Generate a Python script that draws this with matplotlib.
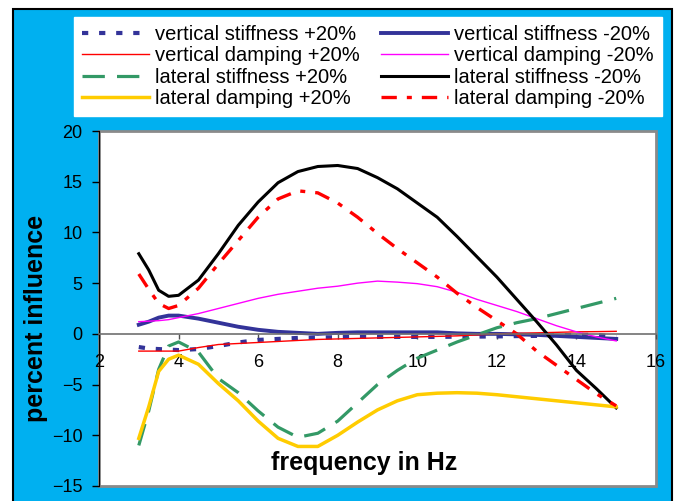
import numpy as np
import matplotlib
matplotlib.use('Agg')
import matplotlib.pyplot as plt
from matplotlib.patches import Rectangle

plt.rcParams['font.family'] = ['Liberation Sans', 'DejaVu Sans']

freq = [3, 3.25, 3.5, 3.75, 4, 4.5, 5, 5.5, 6, 6.5, 7, 7.5, 8, 8.5, 9, 9.5,
        10, 10.5, 11, 11.5, 12, 12.5, 13, 13.5, 14, 14.5, 15]

vert_stiff_plus = [-1.3, -1.45, -1.5, -1.55, -1.6, -1.5, -1.2, -0.85, -0.6, -0.5, -0.4, -0.37, -0.33, -0.3,
                   -0.3, -0.3, -0.3, -0.3, -0.28, -0.27, -0.25, -0.22, -0.2, -0.15, -0.1, -0.1, -0.3]
vert_stiff_minus = [0.9, 1.2, 1.6, 1.8, 1.8, 1.5, 1.1, 0.7, 0.4, 0.2, 0.1, 0.0, 0.1, 0.15,
                    0.15, 0.15, 0.15, 0.15, 0.05, 0.0, 0.0, -0.05, -0.1, -0.2, -0.3, -0.4, -0.5]
vert_damp_plus = [-1.7, -1.7, -1.7, -1.7, -1.7, -1.35, -1.05, -0.95, -0.85, -0.75, -0.65, -0.55, -0.5, -0.45,
                  -0.4, -0.35, -0.3, -0.25, -0.2, -0.1, 0.0, 0.05, 0.1, 0.15, 0.2, 0.22, 0.25]
vert_damp_minus = [1.2, 1.25, 1.3, 1.4, 1.6, 2.0, 2.5, 3.0, 3.5, 3.9, 4.2, 4.5, 4.7, 5.0,
                   5.2, 5.1, 4.95, 4.65, 4.1, 3.4, 2.8, 2.2, 1.5, 0.8, 0.2, -0.3, -0.7]
lat_stiff_plus = [-11.0, -7.6, -3.5, -1.2, -0.8, -1.8, -4.4, -5.8, -7.6, -9.2, -10.2, -9.8, -8.6, -6.8,
                  -5.0, -3.6, -2.4, -1.6, -0.8, -0.1, 0.6, 1.1, 1.5, 2.0, 2.5, 3.0, 3.5]
lat_stiff_minus = [7.9, 6.3, 4.3, 3.7, 3.8, 5.3, 7.9, 10.7, 13.0, 14.9, 16.0, 16.5, 16.6, 16.3,
                   15.4, 14.3, 12.9, 11.5, 9.6, 7.6, 5.6, 3.4, 1.2, -1.1, -3.6, -5.4, -7.3]
lat_damp_plus = [-10.3, -7.2, -3.7, -2.5, -2.1, -3.0, -4.9, -6.6, -8.6, -10.3, -11.1, -11.1, -10.0, -8.7,
                 -7.5, -6.6, -6.0, -5.85, -5.8, -5.85, -6.0, -6.2, -6.4, -6.6, -6.8, -7.0, -7.2]
lat_damp_minus = [5.9, 4.4, 3.0, 2.5, 2.8, 4.5, 6.9, 9.2, 11.5, 13.3, 14.1, 13.9, 12.9, 11.5,
                  9.9, 8.4, 7.0, 5.6, 4.0, 2.6, 1.3, 0.0, -1.7, -3.1, -4.5, -5.9, -7.1]

W, H = 677, 501
fig = plt.figure(figsize=(W / 100, H / 100), dpi=100)
fig.patch.set_facecolor('white')

# blue chart area with black frame
fig.add_artist(Rectangle((13 / W, -0.02), 659 / W, 1.02 - 9 / H, transform=fig.transFigure,
                         facecolor='#00b0f0', edgecolor='black', linewidth=1.5, zorder=0))

ax = fig.add_axes([99 / W, 15 / H, 557 / W, 355 / H])
ax.set_facecolor('white')

l_vs_p, = ax.plot(freq, vert_stiff_plus, color='#333399', lw=3, linestyle=(0, (1.5, 2.6)))
l_vs_m, = ax.plot(freq, vert_stiff_minus, color='#333399', lw=2.8)
l_vd_p, = ax.plot(freq, vert_damp_plus, color='#ff0000', lw=1.0)
l_vd_m, = ax.plot(freq, vert_damp_minus, color='#ff00ff', lw=1.0)
l_ls_p, = ax.plot(freq, lat_stiff_plus, color='#339966', lw=2.3, linestyle=(0, (7, 3.8)))
l_ls_m, = ax.plot(freq, lat_stiff_minus, color='black', lw=2.2)
l_ld_p, = ax.plot(freq, lat_damp_plus, color='#ffcc00', lw=2.5)
l_ld_m, = ax.plot(freq, lat_damp_minus, color='#ff0000', lw=2.4, linestyle=(0, (4.6, 3, 1.5, 3)))

ax.set_xlim(2, 16)
ax.set_ylim(-15, 20)
ax.set_xticks(np.arange(2, 17, 2))
ax.set_yticks(np.arange(-15, 21, 5))

for s in ['top', 'right']:
    ax.spines[s].set_visible(False)
ax.spines['left'].set_color('black')
ax.spines['bottom'].set_position(('data', 0))
ax.spines['bottom'].set_color('#707070')
ax.spines['bottom'].set_linewidth(1.2)
ax.add_patch(Rectangle((0, 0), 1, 1, transform=ax.transAxes, fill=False,
                       edgecolor='#8a8a8a', linewidth=2, zorder=0.5, clip_on=False))

ax.tick_params(axis='y', direction='out', length=5, width=1, pad=7, labelsize=13)
ax.tick_params(axis='x', direction='out', length=3.5, width=1, pad=11, labelsize=13,
               color='#505050')

ax.set_ylabel('percent influence', fontsize=18, fontweight='bold')
ax.yaxis.set_label_coords(-0.092, 0.473)
ax.text(0.476, 0.065, 'frequency in Hz', transform=ax.transAxes, ha='center', va='center',
        fontsize=18, fontweight='bold')

handles = [l_vs_p, l_vd_p, l_ls_p, l_ld_p, l_vs_m, l_vd_m, l_ls_m, l_ld_m]
labels = ['vertical stiffness +20%', 'vertical damping +20%', 'lateral stiffness +20%',
          'lateral damping +20%', 'vertical stiffness -20%', 'vertical damping -20%',
          'lateral stiffness -20%', 'lateral damping -20%']
leg = fig.legend(handles, labels, loc='upper left', bbox_to_anchor=(74 / W, 1 - 17 / H),
                 ncol=2, fontsize=14.5, frameon=True, fancybox=False, framealpha=1,
                 handlelength=3.3, handletextpad=0.3, columnspacing=1.1,
                 labelspacing=0.12, borderpad=0.4, borderaxespad=0)
leg.get_frame().set_facecolor('white')
leg.get_frame().set_edgecolor('white')

fig.savefig('out.png', dpi=100)
